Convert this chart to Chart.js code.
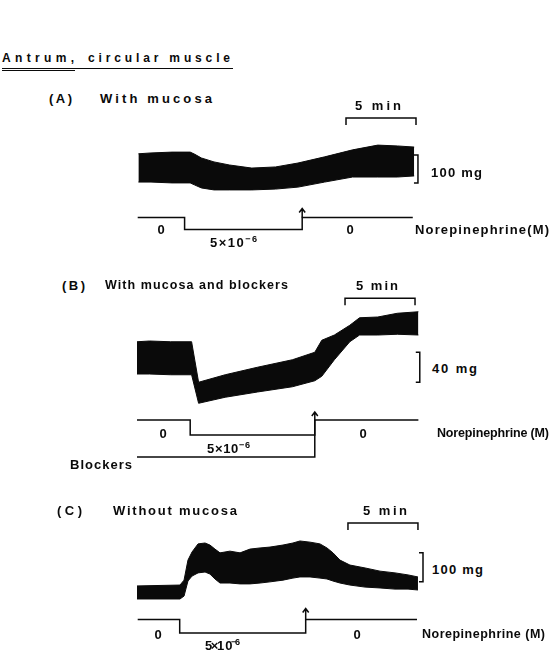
<!DOCTYPE html>
<html>
<head>
<meta charset="utf-8">
<script src="https://cdn.jsdelivr.net/npm/chart.js@4.4.0/dist/chart.umd.min.js"></script>
<style>
body { margin: 0; background: #fff; }
#page { position: relative; width: 550px; height: 652px; overflow: hidden;
        font-family: "Liberation Sans", Arial, sans-serif; font-weight: bold; color: #0a0a0a; }
.lbl { position: absolute; white-space: nowrap; line-height: 1; }
.lbl sup { font-size: 0.7em; position: relative; top: -0.5em; vertical-align: baseline; }
.rule { position: absolute; background: #0a0a0a; }
canvas { position: absolute; }
</style>
</head>
<body>
<div id="page">
  <div class="rule" style="left:2px;top:67.5px;width:231px;height:1.5px"></div>
  <div class="rule" style="left:2px;top:69.5px;width:73px;height:1.2px"></div>
  <canvas id="chartA" width="300" height="130" style="left:130px;top:110px"></canvas>
  <canvas id="chartB" width="300" height="175" style="left:130px;top:290px"></canvas>
  <canvas id="chartC" width="300" height="130" style="left:130px;top:515px"></canvas>
</div>
<script>
// time in min from start of recording, tension in mg (envelope of the oscillations)
var timeA  = [0.1, 1.0, 2.5, 3.8, 4.1, 4.6, 5.5, 6.6, 8.2, 9.9, 11.5, 13.4, 15.4, 17.2, 18.6, 19.8];
var upperA = [165, 168, 171, 171, 164, 150, 136, 125, 114, 118, 132, 154, 179, 196, 193, 189];
var lowerA = [64, 64, 61, 61, 54, 43, 36, 36, 36, 39, 46, 64, 82, 82, 82, 86];

var timeB  = [0, 0.9, 2.4, 3.9, 4.4, 6.3, 8.6, 11.1, 12.7, 13.2, 14.1, 15.2, 15.9, 17.2, 18.6, 20.1];
var upperB = [91, 92, 91, 91, 37, 47, 57, 67, 77, 93, 100, 113, 123, 124, 129, 131];
var lowerB = [48, 48, 47, 47, 9, 17, 24, 31, 39, 45, 67, 91, 100, 100, 101, 100];

var timeC  = [0, 3.07, 3.36, 3.64, 3.93, 4.36, 4.86, 5.21, 5.57, 5.93, 6.64, 7.36, 8.07, 8.79, 9.5,
              10.43, 11.14, 11.64, 12.36, 13.07, 13.57, 14.0, 14.5, 15.21, 16.29, 17.36, 18.43, 19.36, 20.07];
var upperC = [83, 86, 103, 172, 200, 228, 231, 224, 210, 197, 203, 197, 210, 214, 217,
              224, 231, 238, 234, 228, 214, 197, 172, 155, 145, 134, 128, 121, 114];
var lowerC = [38, 38, 48, 100, 117, 128, 131, 124, 107, 93, 93, 90, 90, 93, 97,
              103, 110, 114, 114, 110, 107, 100, 93, 86, 79, 76, 72, 72, 69];

// norepinephrine protocol (µM), step changes at these times
var stimTimeA = [0.05, 3.4, 11.8, 19.7];
var stimConcA = [0, 5, 0, 0];
var stimTimeB = [0, 3.8, 12.7, 20.1];
var stimConcB = [0, 5, 0, 0];
var blockTimeB = [0, 12.7];
var blockOnB = [1, 0];
var stimTimeC = [0.05, 3.05, 12.05, 20.0];
var stimConcC = [0, 5, 0, 0];

var ink = '#0a0a0a';
var page = document.getElementById('page');

function pts(xs, ys) {
    return xs.map(function (t, i) { return { x: t, y: ys[i] }; });
}

// scale bars and washout arrow, placed through the chart scales
var calBars = {
    id: 'calBars',
    afterDatasetsDraw: function (chart, args, o) {
        var ctx = chart.ctx, sx = chart.scales.x, sy = chart.scales.y, ss = chart.scales.ys;
        ctx.save();
        ctx.strokeStyle = ink;
        ctx.lineWidth = 1.5;
        var x0 = sx.getPixelForValue(o.timeBar.start);
        var x1 = sx.getPixelForValue(o.timeBar.start + o.timeBar.len);
        var yy = sy.getPixelForValue(o.timeBar.level);
        ctx.beginPath();
        ctx.moveTo(x0, yy + 7); ctx.lineTo(x0, yy); ctx.lineTo(x1, yy); ctx.lineTo(x1, yy + 7);
        ctx.stroke();
        var fx = sx.getPixelForValue(o.forceBar.time);
        var f0 = sy.getPixelForValue(o.forceBar.from);
        var f1 = sy.getPixelForValue(o.forceBar.from + o.forceBar.len);
        ctx.beginPath();
        ctx.moveTo(fx - 4, f1); ctx.lineTo(fx, f1); ctx.lineTo(fx, f0); ctx.lineTo(fx - 4, f0);
        ctx.stroke();
        var wx = sx.getPixelForValue(o.washout), w0 = ss.getPixelForValue(0);
        ctx.beginPath();
        ctx.moveTo(wx, w0); ctx.lineTo(wx, w0 - o.arrow);
        ctx.moveTo(wx - 3, w0 - o.arrow + 4); ctx.lineTo(wx, w0 - o.arrow); ctx.lineTo(wx + 3, w0 - o.arrow + 4);
        ctx.stroke();
        ctx.restore();
    }
};

function makePanel(id, time, upper, lower, steps, yRange, extraScales, bars) {
    var datasets = [
        { data: pts(time, lower), borderColor: ink, borderWidth: 1, pointRadius: 0, fill: false },
        { data: pts(time, upper), borderColor: ink, borderWidth: 1, pointRadius: 0, fill: '-1', backgroundColor: ink }
    ];
    steps.forEach(function (s) {
        datasets.push({ data: pts(s.t, s.v), yAxisID: s.axis, stepped: true, borderColor: ink,
                        borderWidth: 1.5, pointRadius: 0, fill: false });
    });
    var scales = {
        x: { type: 'linear', min: -0.5, max: 20.93, display: false },
        y: { min: yRange[0], max: yRange[1], display: false }
    };
    Object.keys(extraScales).forEach(function (k) {
        scales[k] = { min: extraScales[k][0], max: extraScales[k][1], reverse: true, display: false };
    });
    new Chart(document.getElementById(id), {
        type: 'line',
        data: { datasets: datasets },
        options: {
            responsive: false, animation: false, devicePixelRatio: 1, events: [],
            layout: { padding: 0 },
            scales: scales,
            plugins: { legend: { display: false }, tooltip: { enabled: false }, calBars: bars }
        },
        plugins: [calBars]
    });
}

makePanel('chartA', timeA, upperA, lowerA,
    [{ t: stimTimeA, v: stimConcA, axis: 'ys' }],
    [-142.9, 321.4], { ys: [-44.79, 9.375] },
    { timeBar: { start: 14.93, len: 5, level: 293 }, forceBar: { time: 20.07, from: 61, len: 100 }, washout: 11.8, arrow: 9 });

makePanel('chartB', timeB, upperB, lowerB,
    [{ t: stimTimeB, v: stimConcB, axis: 'ys' }, { t: blockTimeB, v: blockOnB, axis: 'yb' }],
    [-73.3, 160], { ys: [-43.33, 15], yb: [-3.514, 1.216] },
    { timeBar: { start: 14.86, len: 5, level: 149 }, forceBar: { time: 20.2, from: 37, len: 40 }, washout: 12.7, arrow: 8 });

makePanel('chartC', timeC, upperC, lowerC,
    [{ t: stimTimeC, v: stimConcC, axis: 'ys' }],
    [-120.7, 327.6], { ys: [-38.7, 9.44] },
    { timeBar: { start: 15.07, len: 5, level: 300 }, forceBar: { time: 20.43, from: 97, len: 100 }, washout: 12.05, arrow: 11 });

// text: [html, left, right (or null = centred on left), centre y, size]
function label(html, left, right, cy, size) {
    var el = document.createElement('div');
    el.className = 'lbl';
    el.innerHTML = html;
    el.style.fontSize = size + 'px';
    page.appendChild(el);
    var w = el.getBoundingClientRect().width;
    var n = el.textContent.length;
    if (right !== null && n > 1) {
        el.style.letterSpacing = ((right - left - w) / (n - 1)) + 'px';
        el.style.left = left + 'px';
    } else {
        el.style.left = (left - w / 2) + 'px';
    }
    el.style.top = (cy - el.offsetHeight / 2) + 'px';
}

[
    ['Antrum,', 2, 74, 58, 12],
    ['circular muscle', 88, 230, 58, 12],
    ['(A)', 49, 72, 98, 13],
    ['With mucosa', 100, 212, 98, 13],
    ['5 min', 355, 401, 105, 13],
    ['100 mg', 431, 482, 172, 13],
    ['0', 161, null, 229, 13],
    ['5×10<sup>−6</sup>', 210, 257, 242, 13],
    ['0', 350, null, 229, 13],
    ['Norepinephrine(M)', 415, 549, 229, 13],
    ['(B)', 62, 85, 285, 13],
    ['With mucosa and blockers', 105, 288, 285, 12.5],
    ['5 min', 356, 398, 285, 13],
    ['40 mg', 432, 477, 368, 13],
    ['0', 163, null, 433, 13],
    ['5×10<sup>−6</sup>', 207, 250, 448, 13],
    ['0', 363, null, 433, 13],
    ['Norepinephrine (M)', 437, 549, 433, 12.5],
    ['Blockers', 70, 132, 464, 13],
    ['(C)', 57, 82, 510, 13],
    ['Without mucosa', 113, 237, 510, 13],
    ['5 min', 363, 407, 510, 13],
    ['100 mg', 432, 483, 569, 13],
    ['0', 158, null, 634, 13],
    ['5×1 0<sup>−6</sup>', 205, 240, 645, 13],
    ['0', 357, null, 634, 13],
    ['Norepinephrine (M)', 422, 545, 634, 12.5]
].forEach(function (l) { label(l[0], l[1], l[2], l[3], l[4]); });
</script>
</body>
</html>
